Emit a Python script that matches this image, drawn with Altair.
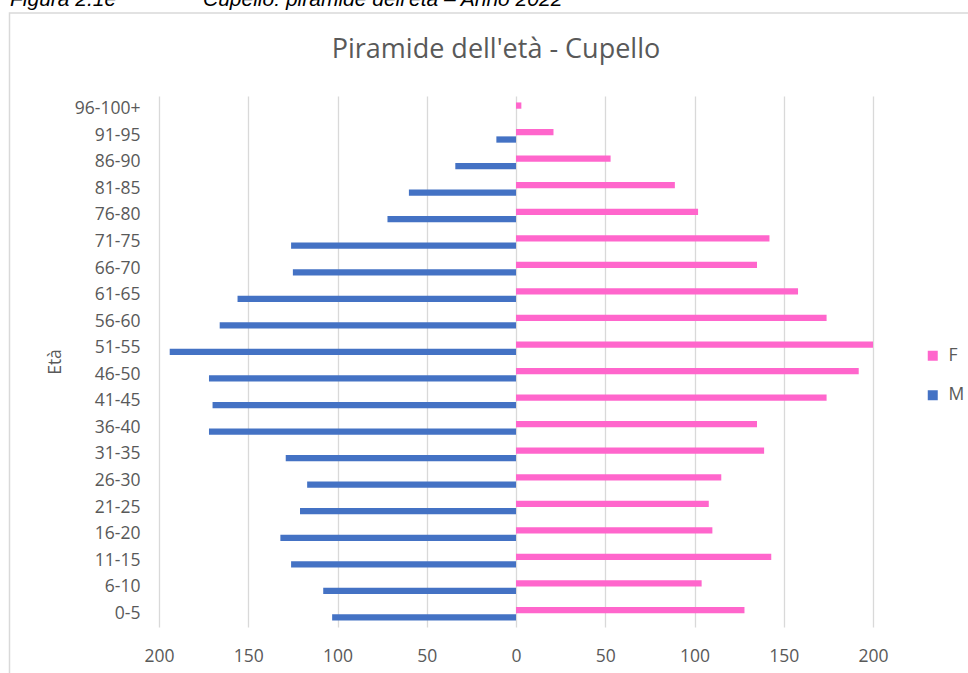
import altair as alt
import pandas as pd

# Age classes, bottom to top
eta = ["0-5", "6-10", "11-15", "16-20", "21-25", "26-30", "31-35", "36-40",
       "41-45", "46-50", "51-55", "56-60", "61-65", "66-70", "71-75", "76-80",
       "81-85", "86-90", "91-95", "96-100+"]
maschi = [103, 108, 126, 132, 121, 117, 129, 172, 170, 172, 194, 166, 156,
          125, 126, 72, 60, 34, 11, 0]
femmine = [128, 104, 143, 110, 108, 115, 139, 135, 174, 192, 200, 174, 158,
           135, 142, 102, 89, 53, 21, 3]
x_ticks = [-200, -150, -100, -50, 0, 50, 100, 150, 200]

FONT = "Open Sans"
GREY = "#595959"

rows = []
for e, m, f in zip(eta, maschi, femmine):
    rows.append({"eta": e, "sesso": "F", "valore": f})
    rows.append({"eta": e, "sesso": "M", "valore": -m})
df = pd.DataFrame(rows)

bars = alt.Chart(df).mark_bar().encode(
    x=alt.X(
        "valore:Q",
        scale=alt.Scale(domain=[-200, 200], nice=False),
        axis=alt.Axis(
            values=x_ticks, labelExpr="abs(datum.value)", title=None,
            domain=False, ticks=False, tickSize=0, labelPadding=20,
            labelFlush=False,
            labelFont=FONT, labelFontSize=17.5, labelColor=GREY,
            grid=True, gridColor="#d9d9d9", gridWidth=1.3,
        ),
    ),
    y=alt.Y(
        "eta:N",
        sort=list(reversed(eta)),
        scale=alt.Scale(paddingInner=0.485, paddingOuter=0.2425),
        axis=alt.Axis(
            title="Età", titleFont=FONT, titleFontSize=17.5, titleFontWeight="normal",
            titleColor=GREY, titleX=-104, titleY=265.5, titleAngle=-90,
            titleAlign="center", titleBaseline="middle",
            domain=False, ticks=False, tickSize=0, labelPadding=19,
            labelFont=FONT, labelFontSize=17.5, labelColor=GREY, grid=False,
        ),
    ),
    yOffset=alt.YOffset(
        "sesso:N",
        sort=["F", "M"],
        scale=alt.Scale(domain=["F", "M"], paddingInner=0.15, paddingOuter=0),
    ),
    color=alt.Color(
        "sesso:N",
        scale=alt.Scale(domain=["F", "M"], range=["#FF66CC", "#4472C4"]),
        legend=alt.Legend(
            orient="none", legendX=765, legendY=251, title=None,
            symbolType="square", symbolSize=100, symbolStrokeWidth=0,
            labelFont=FONT, labelFontSize=17.5, labelColor=GREY,
            rowPadding=20.5, labelOffset=7, padding=0,
        ),
    ),
)

# Chart frame
frame = alt.Chart(pd.DataFrame({"k": [0]})).mark_rect(
    fill="transparent", stroke="#d9d9d9", strokeWidth=1.5
).encode(
    x=alt.value(-149.5), x2=alt.value(900), y=alt.value(-83), y2=alt.value(700)
)

title = alt.Chart(pd.DataFrame({"t": ["Piramide dell'età - Cupello"]})).mark_text(
    font=FONT, fontSize=27, color=GREY, align="center", baseline="alphabetic"
).encode(x=alt.value(337), y=alt.value(-38), text="t:N")

caption_left = alt.Chart(pd.DataFrame({"t": ["Figura 2.1e"]})).mark_text(
    font="Liberation Sans", fontSize=21, fontStyle="italic", color="#000000",
    align="left", baseline="alphabetic"
).encode(x=alt.value(-149), y=alt.value(-90), text="t:N")

caption_right = alt.Chart(
    pd.DataFrame({"t": ["Cupello: piramide dell'età – Anno 2022"]})
).mark_text(
    font="Liberation Sans", fontSize=21, fontStyle="italic", color="#000000",
    align="left", baseline="alphabetic"
).encode(x=alt.value(44), y=alt.value(-90), text="t:N")

chart = alt.layer(frame, bars, title, caption_left, caption_right).properties(
    width=714, height=531,
    autosize=alt.AutoSizeParams(type="none"),
    padding={"left": 159, "top": 96, "right": 95, "bottom": 46},
    background="white",
).configure_view(stroke=None)

chart.save("out.html", embed_options={"renderer": "svg", "actions": False})
